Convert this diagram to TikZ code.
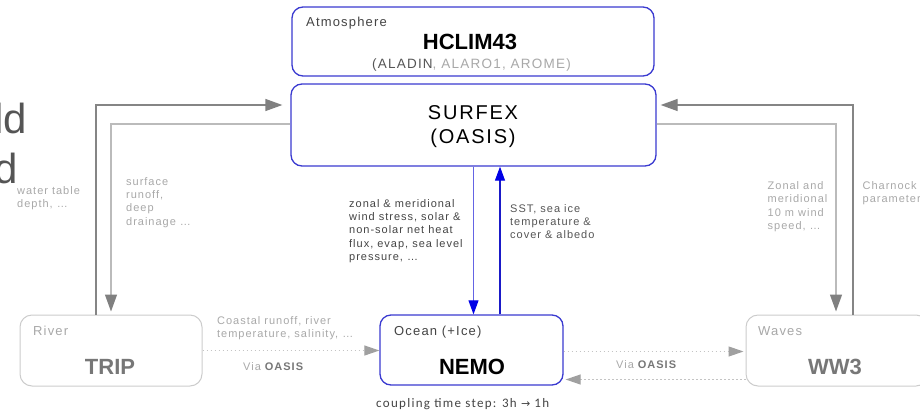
\documentclass[tikz,border=0pt]{standalone}
\usepackage{fontspec}
\setmainfont{Liberation Sans}[LetterSpace=9]
\newfontfamily\bigfont{Liberation Sans}
\newfontfamily\cfont{Carlito}[LetterSpace=10]
\newfontfamily\symfont{DejaVu Sans}
\usetikzlibrary{arrows.meta,calc}
\definecolor{boxblue}{HTML}{3A3AD0}
\definecolor{arrowblue}{HTML}{0000E6}
\definecolor{lineblue}{HTML}{6464E4}
\definecolor{upblue}{HTML}{1A1AC8}
\definecolor{boxgray}{HTML}{CCCCCC}
\definecolor{txtlight}{HTML}{A8A8A8}
\definecolor{txtdark}{HTML}{444444}
\definecolor{txtmid}{HTML}{555555}
\definecolor{biggray}{HTML}{777777}
\definecolor{outergray}{HTML}{858585}
\definecolor{innergray}{HTML}{BBBBBB}
\definecolor{headgray}{HTML}{808080}
\definecolor{dotgray}{HTML}{C4C4C4}
\definecolor{dothead}{HTML}{A0A0A0}
\definecolor{edgetext}{HTML}{555555}
\begin{document}
\begin{tikzpicture}[x=1pt,y=-1pt,
  bluebox/.style={draw=boxblue, line width=1.3pt, rounded corners=11pt, inner sep=0pt, fill=white},
  graybox/.style={draw=boxgray, line width=1pt, rounded corners=12pt, inner sep=0pt, fill=white},
  lbl/.style={inner sep=0pt, anchor=north west, align=left, font=\fontsize{11}{13.3}\selectfont},
  ttl/.style={inner sep=0pt, anchor=base west, font=\fontsize{13}{15}\selectfont},
  big/.style={inner sep=0pt, anchor=base, font=\bigfont\bfseries\fontsize{22}{26}\selectfont},
  gline/.style={draw=outergray, line width=1.3pt},
  glight/.style={draw=innergray, line width=1.3pt},
  gtip/.style={-{Triangle[length=17pt,width=12pt,color=headgray]}},
  dotline/.style={draw=dotgray, line width=1.2pt, dash pattern=on 1.2pt off 2.8pt, -{Triangle[length=15pt,width=10pt,color=dothead]}},
  btip/.style={-{Triangle[length=14pt,width=10pt,color=arrowblue]}}
]
\useasboundingbox (0,0) rectangle (920,410);
\clip (0,0) rectangle (920,410);

% partial big text at the left edge (cut off in the reference too)
\node[anchor=base east, inner sep=0pt, font=\bigfont\fontsize{42}{50}\selectfont, text=edgetext] (ldtxt) at (27,133) {ld};
\node[anchor=base east, inner sep=0pt, font=\bigfont\fontsize{42}{50}\selectfont, text=edgetext] (dtxt) at (18,183) {d};

% boxes
\node[bluebox, minimum width=362pt, minimum height=69pt] (atm) at (473,41.5) {};
\node[bluebox, minimum width=365pt, minimum height=82pt] (surfex) at (473.5,125) {};
\node[graybox, minimum width=182pt, minimum height=71pt] (trip) at (111,350.5) {};
\node[bluebox, minimum width=183pt, minimum height=70pt] (nemo) at (471.5,350) {};
\node[graybox, minimum width=182pt, minimum height=71pt] (ww3) at (837,350.5) {};

% box texts
\node[ttl, text=txtdark] (atmt) at (306,26) {Atmosphere};
\node[big, text=black] (hclim) at (470,49) {HCLIM43};
\node[inner sep=0pt, anchor=base, font=\fontsize{13.5}{15}\selectfont] (aladin) at (471.5,68) {\textcolor{txtmid}{(ALADIN}\textcolor{txtlight}{, ALARO1, AROME)}};
\node[inner sep=0pt, anchor=base, font=\fontsize{20}{24}\selectfont] (surft1) at (473,119.5) {SURFEX};
\node[inner sep=0pt, anchor=base, font=\fontsize{20}{24}\selectfont] (surft2) at (473,143.5) {(OASIS)};
\node[ttl, text=txtlight] (rivert) at (33,335) {River};
\node[big, text=biggray] (tript) at (110,374) {TRIP};
\node[ttl, text=txtdark] (oceant) at (394,335) {Ocean (+Ice)};
\node[big, text=black] (nemot) at (472,374) {NEMO};
\node[ttl, text=txtlight] (wavest) at (758,335) {Waves};
\node[big, text=biggray] (ww3t) at (835,374) {WW3};

% connectors
\draw[gline, gtip, shorten >=8pt] ([xshift=-15pt]trip.north) |- ([yshift=20pt]surfex.west);
\draw[glight, gtip, shorten >=3pt] ([yshift=1pt]surfex.west) -| (trip.north);
\draw[gline, gtip, shorten >=4pt] ([xshift=16pt]ww3.north) |- ([yshift=20pt]surfex.east);
\draw[glight, gtip, shorten >=3pt] ([yshift=1pt]surfex.east) -| ([xshift=-1pt]ww3.north);

\draw[draw=lineblue, line width=1pt, btip] (surfex.south) -- (surfex.south |- nemo.north);
\draw[draw=upblue, line width=1.1pt, btip] ([xshift=28.5pt]nemo.north) -- ([xshift=28.5pt]nemo.north |- surfex.south);

\draw[dotline] (trip.east) -- (trip.east -| nemo.west);
\draw[dotline, shorten >=2pt] ([yshift=-1.5pt]nemo.east) -- ([yshift=-1.5pt]nemo.east -| ww3.west);
\draw[dotline, shorten >=2pt] ([yshift=-29pt]ww3.west) -- ([yshift=-29pt]ww3.west -| nemo.east);

% labels
\node[lbl, text=txtlight] (waterl) at (17,186) {water table\\depth, \dots};
\node[lbl, text=txtlight] (surfl) at (126,177) {surface\\runoff,\\deep\\drainage \dots};
\node[lbl, text=txtdark] (zonall) at (349,199) {zonal \& meridional\\wind stress, solar \&\\non-solar net heat\\flux, evap, sea level\\pressure, \dots};
\node[lbl, text=txtmid] (sstl) at (510,204) {SST, sea ice\\temperature \&\\cover \& albedo};
\node[lbl, text=txtlight] (windl) at (767.5,181.5) {Zonal and\\meridional\\10 m wind\\speed, \dots};
\node[lbl, text=txtlight] (charl) at (862.5,181.5) {Charnock\\parameter};
\node[lbl, text=txtlight] (coastl) at (217,316) {Coastal runoff, river\\temperature, salinity, \dots};
\node[inner sep=0pt, anchor=base west, font=\fontsize{11}{13}\selectfont, text=txtlight] (via1) at (243,370) {Via \textcolor{biggray}{\textbf{OASIS}}};
\node[inner sep=0pt, anchor=base west, font=\fontsize{11}{13}\selectfont, text=txtlight] (via2) at (616,368) {Via \textcolor{biggray}{\textbf{OASIS}}};
\node[inner sep=0pt, anchor=base west, font=\cfont\fontsize{13}{15}\selectfont, text=txtdark] (coupl) at (376,407) {coupling time step: 3h {\symfont\fontsize{11}{13}\selectfont →} 1h};
\end{tikzpicture}
\end{document}
